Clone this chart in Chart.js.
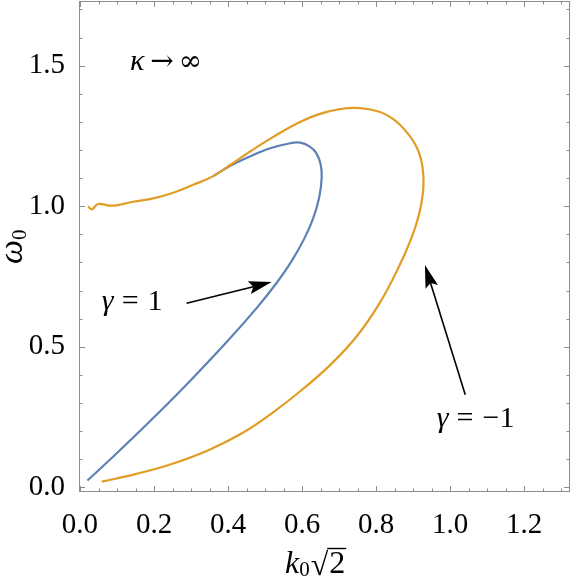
<!DOCTYPE html>
<html>
<head>
<meta charset="utf-8">
<script src="https://cdn.jsdelivr.net/npm/chart.js@4.4.1/dist/chart.umd.min.js"></script>
<style>
  html, body { margin: 0; padding: 0; background: #fff; }
  #wrap { width: 572px; height: 584px; position: relative; }
</style>
</head>
<body>
<div id="wrap"><canvas id="chart"></canvas></div>
<script>
// gamma = 1 branch (blue)
const blueK = [0.020, 0.100, 0.200, 0.300, 0.400, 0.480, 0.530, 0.570, 0.605, 0.630, 0.646, 0.653, 0.650, 0.638, 0.620, 0.595, 0.568, 0.514, 0.459, 0.405, 0.360];
const blueW = [0.024, 0.122, 0.249, 0.382, 0.522, 0.642, 0.725, 0.801, 0.882, 0.957, 1.029, 1.100, 1.150, 1.190, 1.213, 1.226, 1.224, 1.206, 1.177, 1.143, 1.107];

// gamma = -1 branch (orange)
const orangeK = [0.059, 0.150, 0.250, 0.350, 0.440, 0.520, 0.600, 0.680, 0.750, 0.810, 0.860, 0.895, 0.915, 0.926, 0.928, 0.921, 0.905, 0.880, 0.850, 0.811, 0.757, 0.700, 0.640, 0.580, 0.520, 0.460, 0.410, 0.360, 0.306, 0.252, 0.198, 0.144, 0.110, 0.081, 0.049, 0.032, 0.022];
const orangeW = [0.020, 0.047, 0.084, 0.134, 0.194, 0.265, 0.347, 0.440, 0.541, 0.656, 0.780, 0.885, 0.965, 1.040, 1.105, 1.170, 1.222, 1.268, 1.306, 1.335, 1.349, 1.345, 1.325, 1.290, 1.245, 1.195, 1.150, 1.107, 1.076, 1.048, 1.028, 1.016, 1.006, 1.002, 1.008, 0.989, 0.999];

const xTicks      = [0, 0.2, 0.4, 0.6, 0.8, 1.0, 1.2];
const xTickLabels = ["0.0", "0.2", "0.4", "0.6", "0.8", "1.0", "1.2"];
const xMinor      = [0.05, 0.1, 0.15, 0.25, 0.3, 0.35, 0.45, 0.5, 0.55, 0.65, 0.7, 0.75, 0.85, 0.9, 0.95, 1.05, 1.1, 1.15, 1.25, 1.3];
const yTicks      = [0, 0.5, 1.0, 1.5];
const yTickLabels = ["0.0", "0.5", "1.0", "1.5"];
const yMinor      = [0.1, 0.2, 0.3, 0.4, 0.6, 0.7, 0.8, 0.9, 1.1, 1.2, 1.3, 1.4, 1.6, 1.7];

const SERIF = "'Liberation Serif', 'Times New Roman', serif";
const SYM   = "'DejaVu Serif', serif";
const FRAME = "#8c8c8c";

function toPoints(xs, ys) { return xs.map((x, i) => ({ x, y: ys[i] })); }

// annotations, anchored in data coordinates
const arrows = [
  { from: [0.288, 0.655], to: [0.518, 0.730] },
  { from: [1.041, 0.329], to: [0.932, 0.791] }
];

function drawArrow(ctx, x1, y1, x2, y2) {
  const ang = Math.atan2(y2 - y1, x2 - x1);
  const len = 23, half = 6.5;
  const c = Math.cos(ang), s = Math.sin(ang);
  const bx = x2 - len * c, by = y2 - len * s;
  ctx.save();
  ctx.strokeStyle = "#000";
  ctx.fillStyle = "#000";
  ctx.lineWidth = 1.6;
  ctx.beginPath();
  ctx.moveTo(x1, y1);
  ctx.lineTo(bx + 4 * c, by + 4 * s);
  ctx.stroke();
  ctx.beginPath();
  ctx.moveTo(x2, y2);
  ctx.lineTo(bx - half * s, by + half * c);
  ctx.lineTo(bx + 4 * c, by + 4 * s);
  ctx.lineTo(bx + half * s, by - half * c);
  ctx.closePath();
  ctx.fill();
  ctx.restore();
}

// draw a run of text pieces left to right starting at (x, y) baseline
function drawRun(ctx, x, y, parts) {
  let cx = x;
  parts.forEach(p => {
    ctx.font = p.font;
    ctx.fillText(p.text, cx, y + (p.dy || 0));
    cx += ctx.measureText(p.text).width + (p.gap || 0);
  });
  return cx;
}

const framePlugin = {
  id: "frame",
  afterDraw(chart) {
    const { ctx, chartArea: a, scales } = chart;
    const xs = scales.x, ys = scales.y;
    ctx.save();
    ctx.strokeStyle = FRAME;
    ctx.lineWidth = 1;
    ctx.strokeRect(a.left + 0.5, a.top + 0.5, a.right - a.left - 1, a.bottom - a.top - 1);
    ctx.beginPath();
    const tickX = (v, len) => {
      const px = Math.round(xs.getPixelForValue(v)) + 0.5;
      ctx.moveTo(px, a.bottom); ctx.lineTo(px, a.bottom - len);
      ctx.moveTo(px, a.top);    ctx.lineTo(px, a.top + len);
    };
    const tickY = (v, len) => {
      const py = Math.round(ys.getPixelForValue(v)) + 0.5;
      ctx.moveTo(a.left, py);  ctx.lineTo(a.left + len, py);
      ctx.moveTo(a.right, py); ctx.lineTo(a.right - len, py);
    };
    xTicks.forEach(v => tickX(v, 6));
    xMinor.forEach(v => tickX(v, 3.5));
    yTicks.forEach(v => tickY(v, 6));
    yMinor.forEach(v => tickY(v, 3.5));
    ctx.stroke();
    ctx.restore();

    // arrows and labels
    ctx.save();
    arrows.forEach(ar => drawArrow(ctx,
      xs.getPixelForValue(ar.from[0]), ys.getPixelForValue(ar.from[1]),
      xs.getPixelForValue(ar.to[0]),   ys.getPixelForValue(ar.to[1])));
    ctx.fillStyle = "#000";
    ctx.textBaseline = "alphabetic";
    ctx.textAlign = "left";
    const it = `italic 30px ${SERIF}`, rm = `30px ${SERIF}`, sym = `28px ${SYM}`;
    drawRun(ctx, xs.getPixelForValue(0.059), ys.getPixelForValue(0.631), [
      { text: "γ", font: it, gap: 8 }, { text: "=", font: rm, gap: 9 }, { text: "1", font: rm }
    ]);
    drawRun(ctx, xs.getPixelForValue(0.964), ys.getPixelForValue(0.215), [
      { text: "γ", font: it, gap: 8 }, { text: "=", font: rm, gap: 9 }, { text: "−1", font: rm }
    ]);
    drawRun(ctx, xs.getPixelForValue(0.135), ys.getPixelForValue(1.485), [
      { text: "κ", font: it, gap: 6 }, { text: "→", font: sym, gap: 5 }, { text: "∞", font: sym }
    ]);

    // x axis title: k0 sqrt(2)
    const big = `32px ${SERIF}`, bigIt = `italic 32px ${SERIF}`, sub = `21px ${SERIF}`;
    const base = 573;
    let cx = drawRun(ctx, 285, base, [
      { text: "k", font: bigIt, gap: 0 }, { text: "0", font: sub, dy: 3, gap: 1 }
    ]);
    ctx.font = big;
    ctx.fillText("√", cx, base + 2);
    const rw = ctx.measureText("√").width;
    const twoX = cx + rw + 1;
    ctx.fillText("2", twoX, base);
    const tw = ctx.measureText("2").width;
    ctx.beginPath();
    ctx.lineWidth = 1.4;
    ctx.strokeStyle = "#000";
    ctx.moveTo(cx + rw - 1, 548.5);
    ctx.lineTo(twoX + tw + 1, 548.5);
    ctx.stroke();

    // y axis title: omega0
    ctx.translate(22, 264);
    ctx.rotate(-Math.PI / 2);
    drawRun(ctx, 0, 0, [
      { text: "ω", font: `italic 34px ${SERIF}`, gap: 0 }, { text: "0", font: sub, dy: 4 }
    ]);
    ctx.restore();
  }
};

new Chart(document.getElementById("chart"), {
  type: "scatter",
  data: {
    datasets: [
      {
        label: "γ = −1",
        data: toPoints(orangeK, orangeW),
        showLine: true, borderColor: "#E19C24", borderWidth: 2.2,
        pointRadius: 0, tension: 0.4, order: 0
      },
      {
        label: "γ = 1",
        data: toPoints(blueK, blueW),
        showLine: true, borderColor: "#5E81B5", borderWidth: 2.2,
        pointRadius: 0, tension: 0.4, order: 1
      }
    ]
  },
  options: {
    responsive: true, maintainAspectRatio: false, animation: false,
    layout: { padding: { top: 1, right: 2, left: 0, bottom: 0 } },
    plugins: { legend: { display: false }, tooltip: { enabled: false } },
    scales: {
      x: {
        type: "linear", min: -0.0027, max: 1.324,
        afterBuildTicks: s => { s.ticks = xTicks.map(v => ({ value: v })); },
        afterFit: s => { s.height = 92; s.paddingLeft = 0; s.paddingRight = 0; },
        grid: { display: false }, border: { display: false },
        ticks: { color: "#000", padding: 8, maxRotation: 0, font: { family: SERIF, size: 29 },
                 callback: (v, i) => xTickLabels[i] }
      },
      y: {
        type: "linear", min: -0.0167, max: 1.730,
        afterBuildTicks: s => { s.ticks = yTicks.map(v => ({ value: v })); },
        afterFit: s => { s.width = 79; s.paddingTop = 0; s.paddingBottom = 0; },
        grid: { display: false }, border: { display: false },
        ticks: { color: "#000", padding: 6, font: { family: SERIF, size: 29 },
                 callback: (v, i) => yTickLabels[i] }
      }
    }
  },
  plugins: [framePlugin]
});
</script>
</body>
</html>
